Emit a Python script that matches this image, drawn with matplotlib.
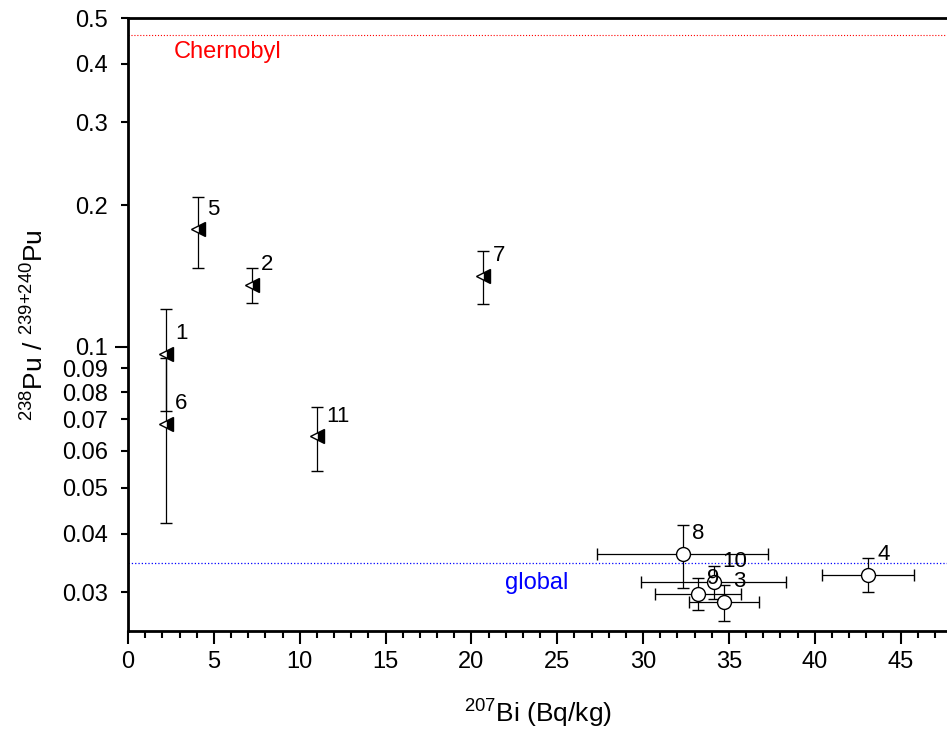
import matplotlib.pyplot as plt
from matplotlib.ticker import FixedLocator, FixedFormatter

plt.rcParams['font.family'] = ['Liberation Sans', 'DejaVu Sans']
plt.rcParams['mathtext.default'] = 'regular'

# samples shown with half-filled triangles (no 207Bi uncertainty)
tri_ids = ['1', '2', '5', '6', '7', '11']
tri_bi = [2.2, 7.2, 4.1, 2.2, 20.7, 11.0]
tri_ratio = [0.0965, 0.1354, 0.1776, 0.0684, 0.1412, 0.0644]
tri_ratio_err = [0.0235, 0.0114, 0.0305, 0.0263, 0.0183, 0.0100]

# samples shown with open circles
circ_ids = ['3', '4', '8', '9', '10']
circ_bi = [34.7, 43.1, 32.3, 33.2, 34.1]
circ_bi_err = [2.05, 2.67, 5.0, 2.5, 4.2]
circ_ratio = [0.0286, 0.0327, 0.0362, 0.0298, 0.0316]
circ_ratio_err = [0.0025, 0.0027, 0.0055, 0.0023, 0.0026]

# reference ratios
chernobyl_ratio = 0.46
global_ratio = 0.0347

y_major = [0.1]
y_minor = [0.03, 0.04, 0.05, 0.06, 0.07, 0.08, 0.09, 0.2, 0.3, 0.4, 0.5]

fig = plt.figure(figsize=(9.47, 7.33), dpi=100)
ax = fig.add_axes([0.1352, 0.139, 0.8648, 0.8364])

ax.axhline(chernobyl_ratio, color='red', ls=':', lw=0.8)
ax.axhline(global_ratio, color='blue', ls=':', lw=0.9)

ax.errorbar(tri_bi, tri_ratio, yerr=tri_ratio_err, fmt='<', ms=10.5,
            fillstyle='right', mfc='black', mfcalt='white', mec='black', mew=1.0,
            ecolor='black', elinewidth=0.9, capsize=4.3, capthick=0.9)
ax.errorbar(circ_bi, circ_ratio, xerr=circ_bi_err, yerr=circ_ratio_err, fmt='o', ms=10,
            mfc='white', mec='black', mew=1.0,
            ecolor='black', elinewidth=0.9, capsize=4.3, capthick=0.9)

for lab, x, y in zip(tri_ids + circ_ids, tri_bi + circ_bi, tri_ratio + circ_ratio):
    dy = 11 if lab == '9' else 14.5
    ax.annotate(lab, (x, y), xytext=(6.5, dy), textcoords='offset points',
                ha='left', va='center', fontsize=16)

ax.text(5.8, 0.4236, 'Chernobyl', color='red', fontsize=17, ha='center', va='center')
ax.text(23.8, 0.0314, 'global', color='blue', fontsize=17, ha='center', va='center')

ax.set_yscale('log')
ax.set_xlim(0, 47.7)
ax.set_ylim(0.0248, 0.5)

ax.set_xticks(range(0, 46, 5))
ax.xaxis.set_minor_locator(FixedLocator(range(0, 48)))
ax.yaxis.set_major_locator(FixedLocator(y_major))
ax.yaxis.set_major_formatter(FixedFormatter([str(v) for v in y_major]))
ax.yaxis.set_minor_locator(FixedLocator(y_minor))
ax.yaxis.set_minor_formatter(FixedFormatter([str(v) for v in y_minor]))

ax.tick_params(axis='both', which='both', direction='out', width=1.5, labelsize=17)
ax.tick_params(axis='x', which='major', length=9, pad=5)
ax.tick_params(axis='x', which='minor', length=5)
ax.tick_params(axis='y', which='major', length=9.4, pad=5)
ax.tick_params(axis='y', which='minor', length=5, pad=9.4)
ax.tick_params(top=False, right=False, which='both')

for s in ['left', 'bottom', 'top']:
    ax.spines[s].set_linewidth(2)
ax.spines['right'].set_visible(False)

ax.set_xlabel('$^{207}$Bi (Bq/kg)', fontsize=19, labelpad=18)
ax.set_ylabel('$^{238}$Pu / $^{239{+}240}$Pu', fontsize=19, labelpad=10)

fig.savefig('out.png', dpi=100)
